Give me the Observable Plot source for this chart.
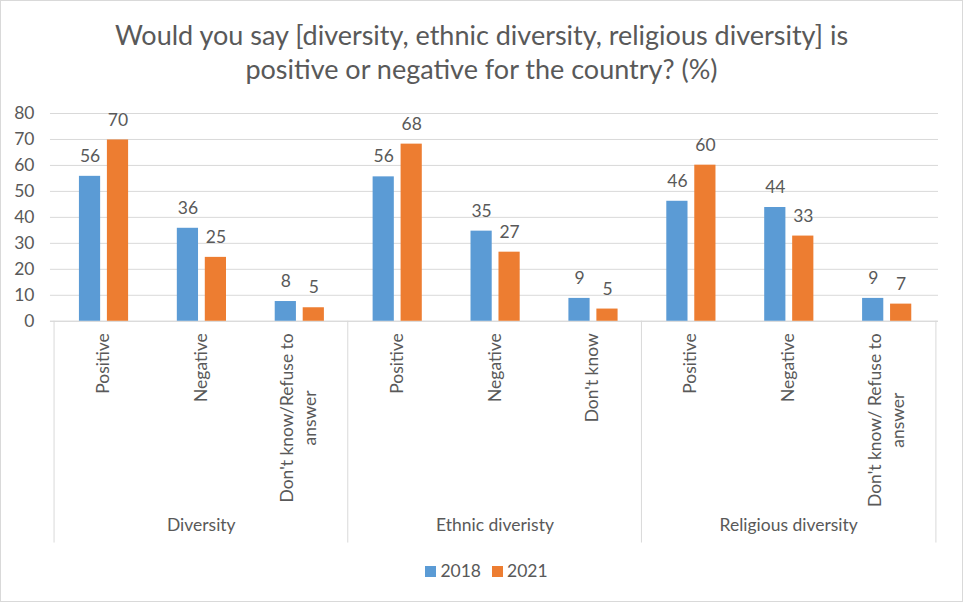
<!DOCTYPE html>
<html><head><meta charset="utf-8">
<script src="https://cdn.jsdelivr.net/npm/d3@7"></script>
<script src="https://cdn.jsdelivr.net/npm/@observablehq/plot@0.6"></script>
<style>
html,body{margin:0;padding:0;background:#fff;}
#chart{position:relative;width:963px;height:602px;box-sizing:border-box;border:1px solid #d9d9d9;overflow:hidden;font-family:Lato,sans-serif;color:#595959;background:#fff;}
#title{position:absolute;left:0;top:17px;width:961px;text-align:center;font-size:27px;line-height:34px;}
#plot{position:absolute;left:-1px;top:99px;}
#legend{position:absolute;left:0;top:558px;width:961px;box-sizing:border-box;padding-left:10px;display:flex;justify-content:center;align-items:center;font-size:17.5px;line-height:24px;}
#legend .item{display:flex;align-items:center;margin:0 5.5px;}
#legend .sw{width:11px;height:11px;margin-right:4px;}
</style>
</head><body>
<div id="chart">
  <div id="title">Would you say [diversity, ethnic diversity, religious diversity] is<br>positive or negative for the country? (%)</div>
  <div id="plot"></div>
  <div id="legend"></div>
</div>
<script>
// ---- data ----
const groups = ["Diversity", "Ethnic diveristy", "Religious diversity"];
const categories = [
  ["Positive", "Negative", "Don't know/Refuse to answer"],
  ["Positive", "Negative", "Don't know"],
  ["Positive", "Negative", "Don't know/ Refuse to answer"]
];
const tickLabels = [
  ["Positive", "Negative", "Don't know/Refuse to\nanswer"],
  ["Positive", "Negative", "Don't know"],
  ["Positive", "Negative", "Don't know/ Refuse to\nanswer"]
];
const years = ["2018", "2021"];
const values2018 = [55.8, 35.8, 7.6, 55.6, 34.7, 8.8, 46.2, 43.8, 8.8];
const values2021 = [69.8, 24.6, 5.2, 68.2, 26.6, 4.7, 60.1, 32.8, 6.6];
const yTicks = [0, 10, 20, 30, 40, 50, 60, 70, 80];
const colors = ["#5B9BD5", "#ED7D31"];

// ---- build table ----
const rows = [];
groups.forEach((g, gi) => categories[gi].forEach((c, ci) => {
  const i = rows.length;
  rows.push({key: g + "|" + c, group: g, cat: c, label: tickLabels[gi][ci], v2018: values2018[i], v2021: values2021[i]});
}));
const keys = rows.map(d => d.key);

// ---- layout ----
const W = 963, H = 455, mL = 50, mR = 24, mT = 13, mB = 234;
const bw = (W - mL - mR) / keys.length;
const fontSize = 17.5, fontFamily = "Lato";
const lineGap = 23;
const textColor = "#595959", gridColor = "#d9d9d9";

const measure = (() => {
  const ctx = document.createElement("canvas").getContext("2d");
  ctx.font = `${fontSize}px ${fontFamily}`;
  return s => ctx.measureText(s).width;
})();

const single = rows.filter(d => !d.label.includes("\n"));
const multi = rows.filter(d => d.label.includes("\n"));
const fmt = d3.format(".0f");

const groupMid = groups.map((g, gi) => ({group: g, key: g + "|" + categories[gi][1]}));
const groupStarts = groups.map((g, gi) => g + "|" + categories[gi][0]);
const lastKey = keys[keys.length - 1];
const frameH = H - mT - mB;

const marks = [
  Plot.gridY(yTicks, {stroke: gridColor, strokeOpacity: 1}),
  Plot.axisY(yTicks, {tickSize: 0, tickPadding: 16, label: null, fill: textColor, fontSize: fontSize}),
  Plot.ruleY([0], {stroke: gridColor, strokeOpacity: 1}),
  Plot.barY(rows, {x: "key", y: "v2018", fill: colors[0], insetLeft: 25, insetRight: bw - 47}),
  Plot.barY(rows, {x: "key", y: "v2021", fill: colors[1], insetLeft: 53, insetRight: bw - 75}),
  Plot.text(rows, {x: "key", y: "v2018", text: d => fmt(d.v2018), dx: 36 - bw / 2, dy: -20, fill: textColor, fontSize: fontSize}),
  Plot.text(rows, {x: "key", y: "v2021", text: d => fmt(d.v2021), dx: 64 - bw / 2, dy: -20, fill: textColor, fontSize: fontSize}),
  // single-line category labels
  Plot.text(single, {x: "key", text: "label", frameAnchor: "bottom", rotate: -90, textAnchor: "end", lineAnchor: "middle", dy: 12, fill: textColor, fontSize: fontSize}),
  // first lines of wrapped labels
  Plot.text(multi, {x: "key", text: d => d.label.split("\n")[0], frameAnchor: "bottom", rotate: -90, textAnchor: "end", lineAnchor: "middle", dy: 12, dx: -lineGap / 2, fill: textColor, fontSize: fontSize}),
  // second lines, centred on the first line
  ...multi.map(d => {
    const [l1, l2] = d.label.split("\n");
    return Plot.text([d], {x: "key", text: () => l2, frameAnchor: "bottom", rotate: -90, textAnchor: "middle", lineAnchor: "middle", dy: 12 + measure(l1) / 2, dx: lineGap / 2, fill: textColor, fontSize: fontSize});
  }),
  // group labels
  Plot.text(groupMid, {x: "key", text: "group", frameAnchor: "bottom", dy: 210, fill: textColor, fontSize: fontSize}),
  // group separators
  Plot.ruleX(groupStarts, {x: d => d, dx: -bw / 2, stroke: gridColor, strokeOpacity: 1, insetTop: frameH, insetBottom: -222}),
  Plot.ruleX([lastKey], {x: d => d, dx: bw / 2, stroke: gridColor, strokeOpacity: 1, insetTop: frameH, insetBottom: -222})
];

const chart = Plot.plot({
  width: W, height: H,
  marginLeft: mL, marginRight: mR, marginTop: mT, marginBottom: mB,
  style: {fontFamily: fontFamily, fontSize: fontSize + "px", color: textColor, background: "transparent", overflow: "visible"},
  x: {type: "band", domain: keys, padding: 0, axis: null},
  y: {domain: [0, 80], axis: null},
  marks
});
document.getElementById("plot").appendChild(chart);

// legend
const legend = document.getElementById("legend");
years.forEach((y, i) => {
  const item = document.createElement("div");
  item.className = "item";
  const sw = document.createElement("div");
  sw.className = "sw";
  sw.style.background = colors[i];
  const t = document.createElement("span");
  t.textContent = y;
  item.appendChild(sw); item.appendChild(t);
  legend.appendChild(item);
});
</script>
</body></html>
